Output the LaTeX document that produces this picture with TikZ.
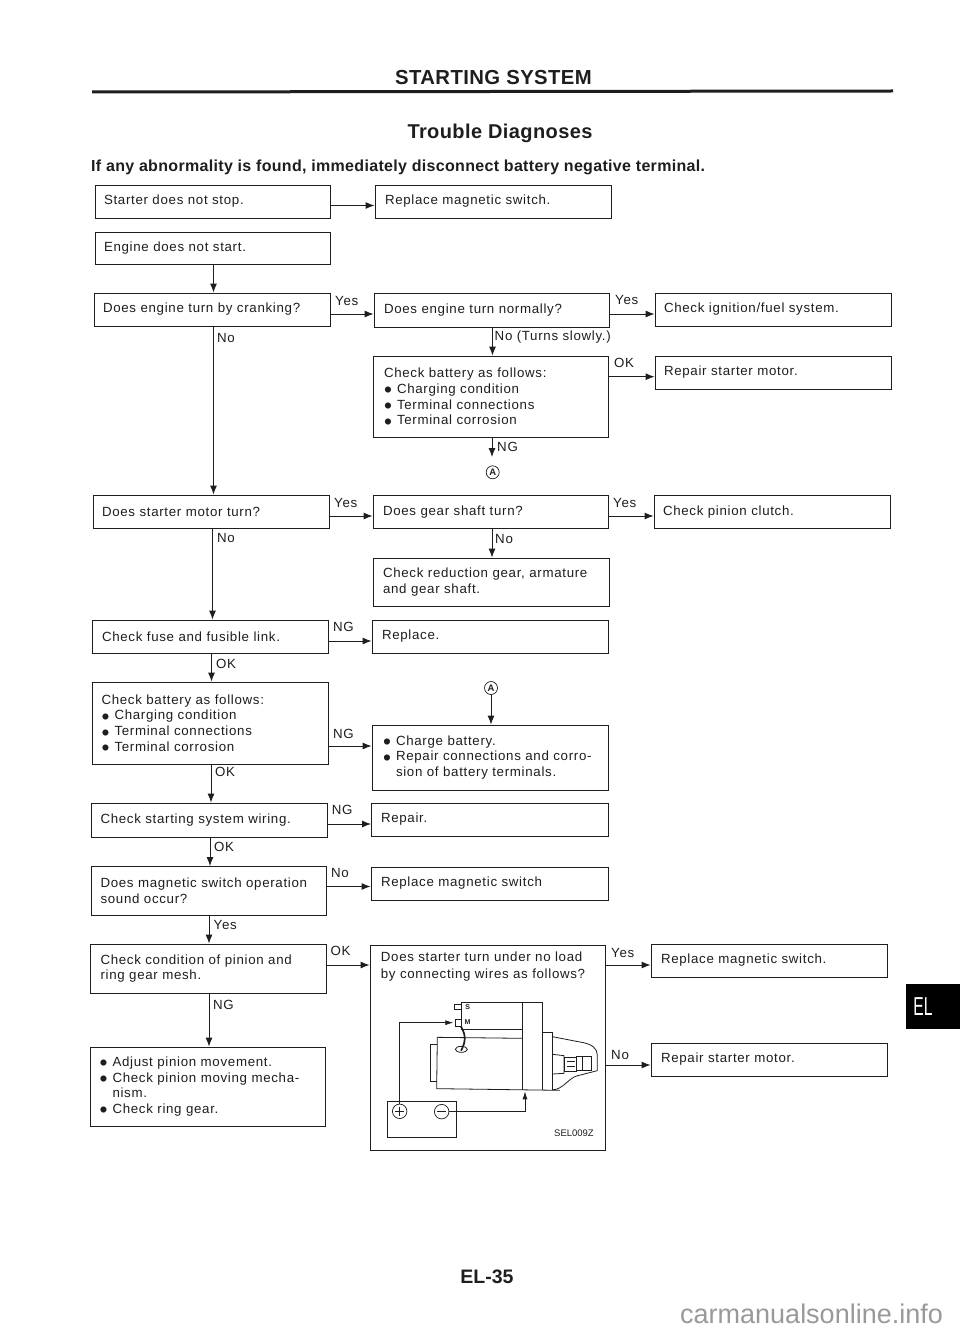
\documentclass[tikz,border=0pt]{standalone}
\usepackage{fontspec}
\setmainfont{Liberation Sans}
\usetikzlibrary{arrows.meta,calc}
\definecolor{ink}{HTML}{1E1E1E}
\newfontfamily\boxfont[LetterSpace=5.2]{Liberation Sans}
\newcommand{\bul}{\makebox[13pt][l]{\smash{\raisebox{-4.4pt}{\scalebox{1.7}{•}}}}}
\newcommand{\ind}{\hspace*{13pt}}
\tikzset{
  fbox/.style={draw=ink,line width=0.9pt,inner sep=0pt,font=\boxfont\fontsize{13.3}{15.7}\selectfont,text=ink,align=left},
  lab/.style={inner sep=0pt,anchor=base west,font=\boxfont\fontsize{13.3}{15.7}\selectfont,text=ink},
  arr/.style={draw=ink,line width=0.9pt,-{Latex[length=9pt,width=7pt]}},
  wire/.style={draw=ink,line width=0.8pt},
  warr/.style={draw=ink,line width=0.8pt,-{Latex[length=8pt,width=5pt]}},
  circA/.style={circle,draw=ink,line width=0.7pt,inner sep=0pt,minimum size=13pt,font=\bfseries\fontsize{9.5}{10}\selectfont,text=ink},
  term/.style={circle,draw=ink,line width=0.7pt,inner sep=0pt,minimum size=14.5pt},
  head/.style={inner sep=0pt,font=\bfseries\fontsize{#1}{#1}\selectfont,text=ink},
}
% \bx{name}{x1}{y1}{x2}{y2}{left pad}{text}
\newcommand{\bx}[7]{%
  \pgfmathsetmacro{\bxw}{#4-#2}\pgfmathsetmacro{\bxh}{#5-#3}\pgfmathsetmacro{\bxtw}{#4-#2-2*#6}%
  \pgfmathsetmacro{\bxcx}{(#2+#4)/2}\pgfmathsetmacro{\bxcy}{(#3+#5)/2}%
  \node[fbox,minimum width=\bxw pt,minimum height=\bxh pt,text width=\bxtw pt] (#1) at (\bxcx,\bxcy) {#7};}
\newcommand{\hc}[3]{\draw[arr] (#1.east |- 0,#3) -- (#2.west |- 0,#3);}
\newcommand{\vc}[3]{\draw[arr] (#1.south -| #3,0) -- (#2.north -| #3,0);}
\newcommand{\lb}[4]{\node[lab] (#1) at (#2,#3) {#4};}
\begin{document}
\begin{tikzpicture}[x=1pt,y=-1pt]
\useasboundingbox (0,0) rectangle (960,1332);
\fill[white] (0,0) rectangle (960,1332);

\node[head=20.3] (title) at (493.5,78) {\addfontfeature{LetterSpace=2}STARTING SYSTEM};
\coordinate (ruleL) at (92,92); \coordinate (ruleR) at (893,91);
\draw[ink,line width=3pt] (ruleL) -- (ruleR);
\node[head=20] (sub) at (500,133) {\addfontfeature{LetterSpace=2}Trouble Diagnoses};
\node[head=16,anchor=base west] (warn) at (91,171.5) {\addfontfeature{LetterSpace=2}If any abnormality is found, immediately disconnect battery negative terminal.};

\bx{a1}{95}{185}{330}{218}{9}{Starter does not stop.}
\bx{b1}{375}{185}{611}{218}{10}{Replace magnetic switch.}
\bx{a2}{95}{232}{330}{264}{9}{Engine does not start.}
\bx{a3}{94}{293}{330}{326}{9}{Does engine turn by cranking?}
\bx{b3}{374}{293}{609}{327}{10}{Does engine turn normally?}
\bx{c3}{655}{293}{891}{326}{9}{Check ignition/fuel system.}
\bx{b4}{373.5}{356}{608.5}{437}{10.5}{Check battery as follows:\\\bul Charging condition\\\bul Terminal connections\\\bul Terminal corrosion}
\bx{c4}{655}{356}{891}{389}{9}{Repair starter motor.}
\bx{a5}{93}{495}{329}{528}{9}{Does starter motor turn?}
\bx{b5}{373}{495.5}{608}{528}{10}{Does gear shaft turn?}
\bx{c5}{654}{495.5}{890}{528}{9}{Check pinion clutch.}
\bx{b6}{373}{558}{609}{606}{10}{Check reduction gear, armature\\and gear shaft.}
\bx{a7}{92}{620}{328}{653}{10}{Check fuse and fusible link.}
\bx{b7}{372}{620}{608}{653}{10}{Replace.}
\bx{a8}{92}{682}{328}{764}{9.5}{Check battery as follows:\\\bul Charging condition\\\bul Terminal connections\\\bul Terminal corrosion}
\bx{b8}{372}{725}{608}{790}{11}{\bul Charge battery.\\\bul Repair connections and corro-\\\ind sion of battery terminals.}
\bx{a9}{91}{803}{327}{837}{9.5}{Check starting system wiring.}
\bx{b9}{371.5}{803}{608}{836}{9.5}{Repair.}
\bx{a10}{91}{866.5}{326}{915}{9.5}{Does magnetic switch operation\\sound occur?}
\bx{b10}{371}{867}{608}{900}{10}{Replace magnetic switch}
\bx{a11}{90}{944}{326}{993}{10.5}{Check condition of pinion and\\ring gear mesh.}
\bx{b11}{370}{945}{605}{1150}{11}{}
\node[inner sep=0pt,anchor=north west,align=left,text=ink,font=\boxfont\fontsize{13.3}{16.5}\selectfont] (b11t) at (380.7,952) {Does starter turn under no load\\by connecting wires as follows?};
\bx{c11}{651}{944}{887}{977}{10}{Replace magnetic switch.}
\bx{c12}{651}{1043}{887}{1076}{10}{Repair starter motor.}
\bx{a12}{90}{1047}{325}{1126}{9.5}{\bul Adjust pinion movement.\\\bul Check pinion moving mecha-\\\ind nism.\\\bul Check ring gear.}

% horizontal connectors
\hc{a1}{b1}{205.5}
\hc{a3}{b3}{314}
\hc{b3}{c3}{314}
\hc{b4}{c4}{376.7}
\hc{a5}{b5}{516}
\hc{b5}{c5}{516}
\hc{a7}{b7}{641}
\hc{a8}{b8}{746}
\hc{a9}{b9}{824}
\hc{a10}{b10}{886.5}
\hc{a11}{b11}{965}
\hc{b11}{c11}{965}
\hc{b11}{c12}{1065}
% vertical connectors
\vc{a2}{a3}{213.5}
\vc{a3}{a5}{213.5}
\vc{a5}{a7}{212.5}
\vc{a7}{a8}{211.5}
\vc{a8}{a9}{211}
\vc{a9}{a10}{210}
\vc{a10}{a11}{209}
\vc{a11}{a12}{209}
\vc{b3}{b4}{492.5}
\vc{b5}{b6}{492}
\node[circA] (A1) at (492.7,472.3) {A};
\node[circA] (A2) at (491,688) {A};
\coordinate (A1in) at (492,457);
\draw[arr] (b4.south -| A1in) -- (A1in);
\draw[arr] (A2.south) -- (b8.north -| A2);

% labels
\lb{l1}{335}{305}{Yes}
\lb{l2}{217}{342}{No}
\lb{l3}{615}{304}{Yes}
\lb{l4}{494.5}{340}{No (Turns slowly.)}
\lb{l5}{614}{367}{OK}
\lb{l6}{497}{451.5}{NG}
\lb{l7}{334}{507}{Yes}
\lb{l8}{217}{542}{No}
\lb{l9}{613}{507}{Yes}
\lb{l10}{495}{543}{No}
\lb{l11}{333}{631}{NG}
\lb{l12}{216}{668}{OK}
\lb{l13}{333}{738}{NG}
\lb{l14}{215}{776}{OK}
\lb{l15}{331.7}{814}{NG}
\lb{l16}{214}{851}{OK}
\lb{l17}{331}{877}{No}
\lb{l18}{213.5}{929}{Yes}
\lb{l19}{330.5}{955}{OK}
\lb{l20}{213}{1009}{NG}
\lb{l21}{611}{957}{Yes}
\lb{l22}{611}{1059}{No}

% starter sketch (coordinates are 3x crop units)
\begin{scope}[shift={(360,930)},x=0.3333pt,y=-0.3333pt]
  \draw[wire] (305,217) -- (547,217) -- (547,480);
  \draw[wire] (305,217) -- (305,297) -- (488,297);
  \draw[wire] (488,220) -- (488,480);
  \draw[wire] (283,224) rectangle (305,238);
  \draw[wire] (285,268) rectangle (303,288);
  \draw[wire] (488,325) -- (232,322) -- (230,476) -- (600,481);
  \draw[wire] (232,343) -- (211,343) -- (211,455) -- (231,455);
  \draw[wire] (547,307) -- (577,307) -- (577,480);
  \draw[wire] (577,320) -- (670,338) .. controls (695,343) and (712,355) .. (712,375) -- (712,422) -- (650,438) .. controls (625,445) and (610,478) .. (577,480);
  \draw[wire] (578,373) -- (612,377) -- (612,430) -- (578,432);
  \draw[wire] (612,382) rectangle (650,425);
  \draw[wire] (650,378) rectangle (668,420);
  \draw[wire] (668,380) -- (695,380) -- (695,420) -- (668,420);
  \draw[wire] (620,395) -- (645,395) (620,408) -- (645,408);
  \draw[ink,line width=1.7pt] (303,290) .. controls (318,315) and (318,335) .. (303,362);
  \draw[wire] (304,358) ellipse [x radius=18,y radius=9];
  \node[inner sep=0pt,font=\bfseries\fontsize{7}{7}\selectfont,text=ink] (S) at (323,232) {S};
  \node[inner sep=0pt,font=\bfseries\fontsize{7}{7}\selectfont,text=ink] (M) at (323,276) {M};
  \draw[wire] (82,514) rectangle (288,622);
  \node[term] (plus) at (119,544) {};
  \node[term] (minus) at (245,545) {};
  \draw[line width=0.7pt,ink] (105,544) -- (133,544) (119,530) -- (119,558);
  \draw[line width=0.7pt,ink] (231,545) -- (259,545);
  \coordinate (mterm) at (280,278);
  \coordinate (gnd) at (495,484);
  \draw[warr] (plus.north) -- (plus.north |- mterm) -- (mterm);
  \draw[wire,-] (minus.east) -- (minus.east -| gnd);
  \draw[warr] (minus.east -| gnd) -- (gnd);
  \node[inner sep=0pt,anchor=base east,font=\fontsize{9.5}{10}\selectfont,text=ink] (code) at (702,619) {SEL009Z};
\end{scope}

% side tab, page number, footer
\node[fill=black,inner sep=0pt,minimum width=54pt,minimum height=45pt,text=white] (tab) at (933,1006.5) {\hspace*{-20pt}\scalebox{0.6}[1]{\fontsize{26}{26}\selectfont EL}};
\node[head=19.5] (page) at (487,1277) {EL-35};
\node[inner sep=0pt,anchor=base west,text=black!40,font=\fontsize{27}{27}\selectfont] (mark) at (680,1323) {carmanualsonline.info};
\end{tikzpicture}
\end{document}
